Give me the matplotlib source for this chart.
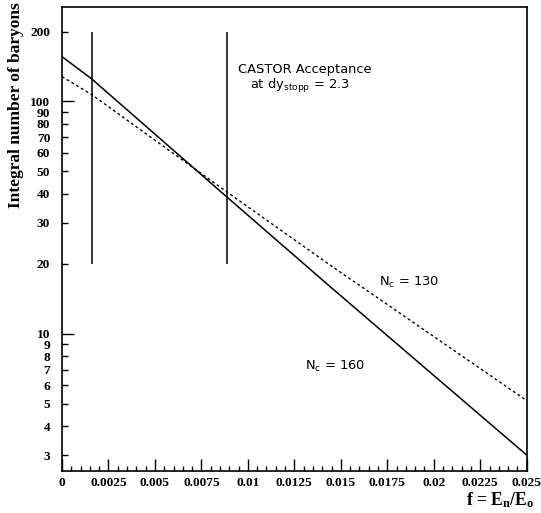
import matplotlib.pyplot as plt
from matplotlib.ticker import FixedLocator, NullFormatter

plt.rcParams['mathtext.default'] = 'regular'

# values
f_vals = [0.0, 0.0016, 0.0089, 0.0144, 0.025]
nc160 = [156, 125, 38.6, 16.0, 3.0]
nc130 = [128, 107, 40.6, 19.8, 5.15]

acc_lo, acc_hi = 0.0016, 0.0089
acc_ymin, acc_ymax = 20, 200

y_major = [10, 100]
y_minor = [3, 4, 5, 6, 7, 8, 9, 20, 30, 40, 50, 60, 70, 80, 90, 200]
x_major = [0, 0.0025, 0.005, 0.0075, 0.01, 0.0125, 0.015, 0.0175, 0.02, 0.0225, 0.025]
x_labels = ['0', '0.0025', '0.005', '0.0075', '0.01', '0.0125', '0.015',
            '0.0175', '0.02', '0.0225', '0.025']

fig = plt.figure(figsize=(5.41, 5.13), dpi=100)
ax = fig.add_axes([0.1146, 0.0825, 0.859, 0.9045])

ax.plot(f_vals, nc160, color='black', lw=1.1)
ax.plot(f_vals, nc130, color='black', lw=1.0, linestyle=(0, (2, 2)))
ax.vlines([acc_lo, acc_hi], acc_ymin, acc_ymax, color='black', lw=1.1)

ax.set_yscale('log')
ax.set_xlim(0, 0.025)
ax.set_ylim(2.57, 256)

ax.yaxis.set_major_locator(FixedLocator(y_major))
ax.yaxis.set_minor_locator(FixedLocator(y_minor))
ax.set_yticks(y_major)
ax.set_yticklabels([str(v) for v in y_major])
ax.set_yticks(y_minor, minor=True)
ax.set_yticklabels([str(v) for v in y_minor], minor=True)

ax.set_xticks(x_major)
ax.set_xticklabels(x_labels)
ax.set_xticks([i * 0.0005 for i in range(51)], minor=True)
ax.xaxis.set_minor_formatter(NullFormatter())

for lab in ax.get_xticklabels() + ax.get_yticklabels() + ax.get_yticklabels(minor=True):
    lab.set_fontfamily('Liberation Serif')
    lab.set_fontweight('bold')
    lab.set_fontsize(9.6)

ax.tick_params(which='major', direction='in', length=8.5, width=1, pad=8.5)
ax.tick_params(which='minor', direction='in', length=4.5, width=1, pad=8.5)
ax.tick_params(axis='x', which='both', pad=4.5)
ax.tick_params(axis='x', which='minor', length=3.5)
ax.tick_params(top=False, right=False, which='both')
for s in ax.spines.values():
    s.set_linewidth(1.2)

txt = {'family': 'DejaVu Sans', 'size': 9.4}
ax.text(0.00947, 133, 'CASTOR Acceptance', ha='left', va='baseline', **txt)
ax.text(0.01011, 113.5, r'at dy$_{\mathregular{stopp}}$ = 2.3', ha='left', va='baseline', **txt)
ax.text(0.01705, 16.0, r'N$_{\mathregular{c}}$ = 130', ha='left', va='baseline', **txt)
ax.text(0.01307, 7.0, r'N$_{\mathregular{c}}$ = 160', ha='left', va='baseline', **txt)

fig.text(16 / 541, 1 - 2 / 513, 'Integral number of baryons', rotation=90,
         ha='center', va='top', family='Liberation Serif', weight='bold', size=12.5)
fig.text(535 / 541, 1 - 505 / 513, r'f = E$_{\mathregular{n}}$/E$_{\mathregular{o}}$',
         ha='right', va='baseline', family='Liberation Serif', weight='bold', size=12.7)

fig.savefig('out.png', dpi=100)
